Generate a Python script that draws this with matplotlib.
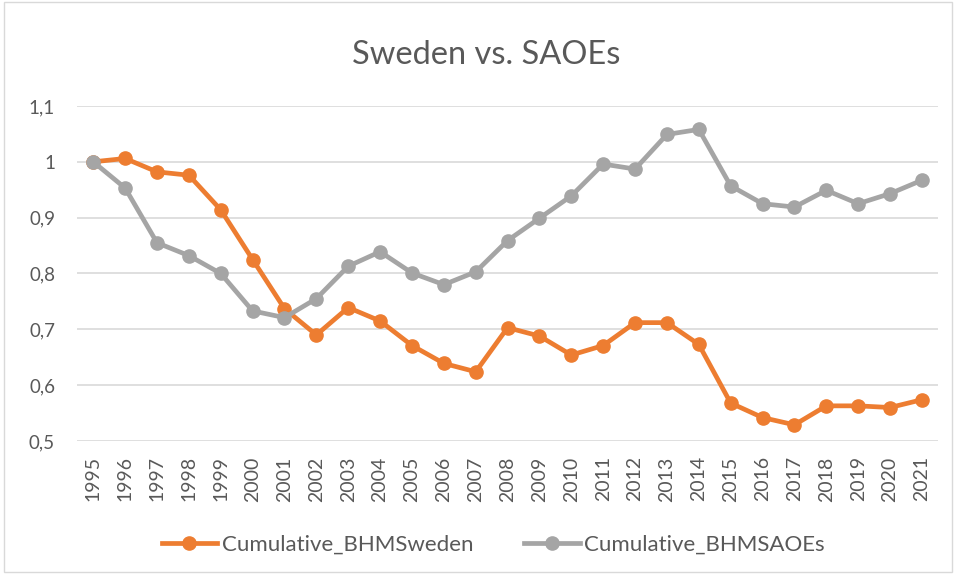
import matplotlib
matplotlib.use("Agg")
import matplotlib.pyplot as plt
from matplotlib.patches import Rectangle
from matplotlib.ticker import FuncFormatter

plt.rcParams["font.family"] = ["Lato", "DejaVu Sans"]

years = [str(y) for y in range(1995, 2022)]
sweden = [1.000, 1.006, 0.982, 0.976, 0.914, 0.825, 0.737, 0.690, 0.739, 0.715,
          0.671, 0.639, 0.624, 0.703, 0.688, 0.654, 0.671, 0.712, 0.712, 0.673,
          0.568, 0.542, 0.529, 0.563, 0.563, 0.560, 0.574]
saoes = [1.000, 0.953, 0.855, 0.832, 0.800, 0.733, 0.721, 0.755, 0.813, 0.839,
         0.801, 0.780, 0.803, 0.859, 0.899, 0.939, 0.996, 0.987, 1.049, 1.058,
         0.957, 0.925, 0.919, 0.949, 0.925, 0.943, 0.967]
y_ticks = [0.5, 0.6, 0.7, 0.8, 0.9, 1.0, 1.1]

ORANGE = "#ED7D31"
GREY = "#A5A5A5"
TEXT = "#595959"

fig = plt.figure(figsize=(9.56, 5.75), dpi=100)
ax = fig.add_axes([0.0809, 0.233, 0.9001, 0.5827])

x = range(len(years))
ax.plot(x, sweden, color=ORANGE, lw=3.4, marker="o", ms=9.5,
        label="Cumulative_BHMSweden", zorder=3)
ax.plot(x, saoes, color=GREY, lw=3.4, marker="o", ms=9.5,
        label="Cumulative_BHMSAOEs", zorder=3)

ax.set_xlim(-0.5, len(years) - 0.5)
ax.set_ylim(0.5, 1.1)
ax.set_yticks(y_ticks)
ax.yaxis.set_major_formatter(FuncFormatter(lambda v, _: f"{v:g}".replace(".", ",")))
ax.set_xticks(list(x))
ax.set_xticklabels(years, rotation=90)
ax.tick_params(length=0, labelcolor=TEXT)
ax.tick_params(axis="y", labelsize=13.5, pad=16)
ax.tick_params(axis="x", labelsize=14, pad=11)
ax.grid(axis="y", color="#D9D9D9", lw=1.2)
for s in ax.spines.values():
    s.set_visible(False)

fig.text(0.509, 0.905, "Sweden vs. SAOEs", ha="center", va="center",
         fontsize=23.5, color=TEXT)

fig.legend(loc="center", bbox_to_anchor=(0.516, 0.052), ncol=2, frameon=False,
           fontsize=16, labelcolor=TEXT, handlelength=2.5, columnspacing=2.3,
           handletextpad=0.2)

# thin frame round the whole chart
fig.patches.append(Rectangle((0.004, 0.006), 0.992, 0.99, transform=fig.transFigure,
                             fill=False, ec="#D9D9D9", lw=1))

fig.savefig("out.png", dpi=100)
